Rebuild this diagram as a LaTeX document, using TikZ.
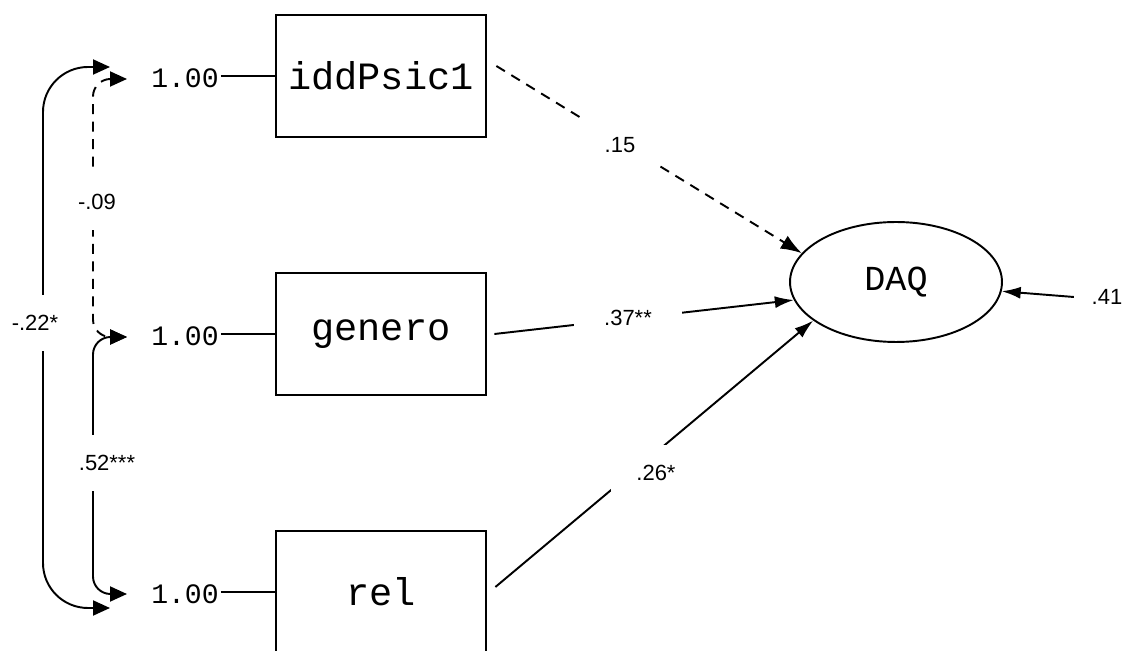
\documentclass[tikz,border=0pt]{standalone}
\usepackage{fontspec}
\setmainfont{Liberation Sans}
\newfontfamily\amosfont{Liberation Mono}
\usetikzlibrary{shapes.geometric,arrows.meta,positioning}

\begin{document}
\begin{tikzpicture}[
    x=0.02cm, y=-0.02cm,
    obs/.style={rectangle, draw=black, line width=1.6pt, minimum width=4.2cm, minimum height=2.44cm, font=\amosfont\fontsize{22}{24}\selectfont},
    lat/.style={ellipse, draw=black, line width=1.1pt, minimum width=4.24cm, minimum height=2.4cm, font=\amosfont\fontsize{20}{22}\selectfont},
    var/.style={font=\amosfont\fontsize{16}{18}\selectfont, inner xsep=1pt},
    reg/.style={-{Latex[length=0.38cm,width=0.24cm]}, line width=1.1pt},
    cov/.style={{Triangle[length=0.34cm,width=0.3cm]}-{Triangle[length=0.34cm,width=0.3cm]}, line width=1.1pt},
    nonsig/.style={dash pattern=on 0.2cm off 0.15cm},
    est/.style={fill=white, font=\fontsize{12.5}{14}\selectfont, inner xsep=0.5cm, inner ysep=0.4cm},
    covest/.style={est, inner xsep=3pt}
]
\clip (0,0) rectangle (1130,651);

% Observed variables
\node[obs] (b1) at (381,76) {iddPsic1};
\node[obs] (b2) at (381,334) {genero};
\node[obs] (b3) at (381,592) {rel};

% Variances
\foreach \i/\y in {1/78, 2/336, 3/594} {
    \node[var] (u\i) at (185,\y) {1.00};
    \draw[line width=1.3pt] (u\i.east |- b\i.west) -- (b\i.west);
}

% Latent variable
\node[lat] (daq) at (896,282) {DAQ};
\node[font=\fontsize{12.5}{14}\selectfont, inner xsep=0.35cm] (e1) at (1107,297) {.41};

% Covariance ends
\coordinate (c1o) at (110,67);
\coordinate (c1i) at (127,79);
\coordinate (c2i) at (127,337);
\coordinate (c3i) at (127,594);
\coordinate (c3o) at (110,608);

% Covariances
\draw[cov, rounded corners=0.9cm] (c1o) -| (43,323) |- (c3o);
\draw[cov, nonsig, rounded corners=0.35cm] (c1i) -| (93,202) |- (c2i);
\draw[cov, rounded corners=0.35cm] (c2i) -| (93,463) |- (c3i);

% Regressions
\draw[reg, nonsig, -{Latex[length=0.42cm,width=0.3cm]}] ([xshift=0.18cm, yshift=0.2cm]b1.east) -- (daq.163);
\draw[reg] ([xshift=0.14cm]b2.east) -- (daq.190);
\draw[reg] ([xshift=0.16cm, yshift=0.1cm]b3.east) -- (daq.205);
\draw[reg] (e1.west) -- (daq.355);

% Estimates
\node[covest] at (35,323) {-.22*};
\node[covest] at (97,202) {-.09};
\node[covest] at (107,463) {.52***};
\node[est] at (620,145) {.15};
\node[est, inner xsep=0.6cm] at (628,318) {.37**};
\node[est] at (656,473) {.26*};

\end{tikzpicture}
\end{document}
